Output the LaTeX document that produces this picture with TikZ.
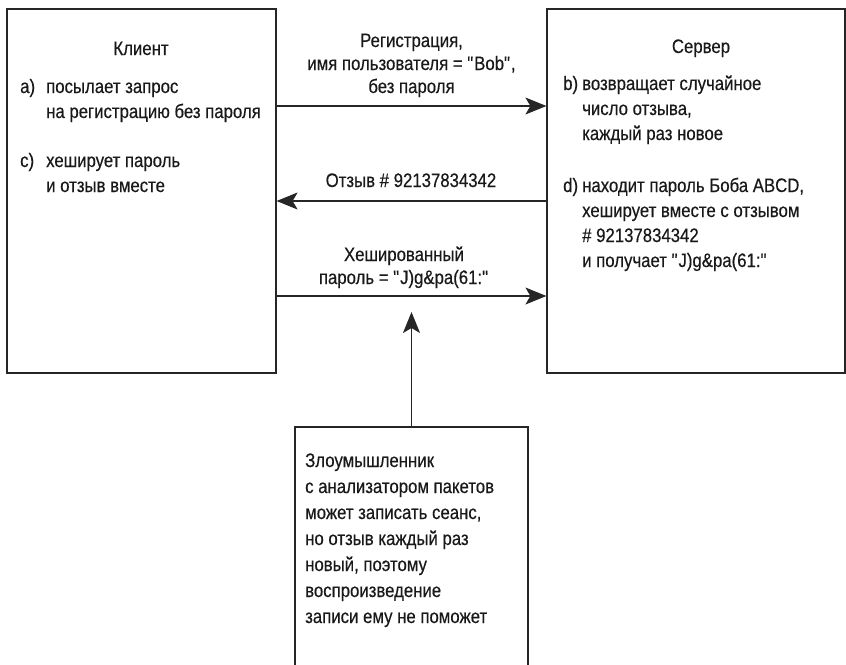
\documentclass[tikz,border=0pt]{standalone}
\usepackage{fontspec}
\setmainfont{Liberation Sans}[FakeStretch=0.86,FakeBold=0.4]
\usetikzlibrary{arrows.meta}
\newcommand{\dq}{\textquotedbl}
\tikzset{
	box/.style={draw=black!85, line width=1.2pt, inner sep=0pt},
	txt/.style={text=black!90, inner sep=0pt, font=\fontsize{19.5}{25}\selectfont},
	lbl/.style={text=black!90, inner sep=0pt, anchor=base, font=\fontsize{19.5}{23}\selectfont},
	msg/.style={draw=black!85, line width=1.1pt, -{Stealth[length=21pt,width=17pt,inset=5pt]}}
}

\begin{document}
\begin{tikzpicture}[x=1pt,y=-1pt]
	\clip (0,0) rectangle (846,664);
	\node (client) [box, minimum width=269pt, minimum height=364pt] at (141.5,191) {};
	\node (server) [box, minimum width=298pt, minimum height=364pt] at (696,191) {};
	\node (sniffer) [box, minimum width=233pt, minimum height=280pt] at (411.5,567) {};

	\node (clientT) [txt, anchor=base] at (141,55) {Клиент};
	\node (stepA) [txt, anchor=base west] at (20,93) {\begin{tabular}[t]{@{}p{26pt}@{}l@{}}a) & посылает запрос\\ & на регистрацию без пароля\end{tabular}};
	\node (stepC) [txt, anchor=base west] at (20,167) {\begin{tabular}[t]{@{}p{26pt}@{}l@{}}c) & хеширует пароль\\ & и отзыв вместе\end{tabular}};

	\node (serverT) [txt, anchor=base] at (701,53) {Сервер};
	\node (stepB) [txt, anchor=base west] at (563,90) {\begin{tabular}[t]{@{}p{19pt}@{}l@{}}b) & возвращает случайное\\ & число отзыва,\\ & каждый раз новое\end{tabular}};
	\node (stepD) [txt, anchor=base west] at (563,192) {\begin{tabular}[t]{@{}p{19pt}@{}l@{}}d) & находит пароль Боба ABCD,\\ & хеширует вместе с отзывом\\ & \# 92137834342\\ & и получает \dq J)g\&pa(61:\dq\end{tabular}};

	\node (snifferT) [txt, anchor=base west, font=\fontsize{19.5}{26}\selectfont] at (305,467) {\begin{tabular}[t]{@{}l@{}}Злоумышленник\\с анализатором пакетов\\может записать сеанс,\\но отзыв каждый раз\\новый, поэтому\\воспроизведение\\записи ему не поможет\end{tabular}};

	\node (regL) [lbl] at (411.5,47) {\begin{tabular}[t]{@{}c@{}}Регистрация,\\имя пользователя = \dq Bob\dq,\\без пароля\end{tabular}};
	\node (chalL) [lbl] at (411,187) {Отзыв \# 92137834342};
	\node (hashL) [lbl] at (404,261) {\begin{tabular}[t]{@{}c@{}}Хешированный\\пароль = \dq J)g\&pa(61:\dq\end{tabular}};

	\coordinate (m1) at (0,106);
	\coordinate (m2) at (0,201);
	\coordinate (m3) at (0,296);
	\coordinate (tap) at (0,312);

	\draw [msg] (client.east |- m1) -- (server.west |- m1);
	\draw [msg] (server.west |- m2) -- (client.east |- m2);
	\draw [msg] (client.east |- m3) -- (server.west |- m3);
	\draw [msg] (sniffer.north) -- (sniffer.north |- tap);
\end{tikzpicture}
\end{document}
